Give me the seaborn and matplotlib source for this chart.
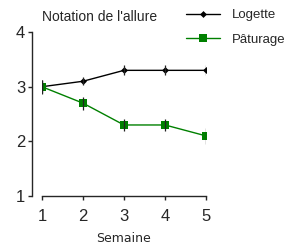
import pandas as pd
import matplotlib
matplotlib.use("Agg")
import matplotlib.pyplot as plt
import seaborn as sns

semaines = [1, 2, 3, 4, 5]
logette = [3.0, 3.1, 3.3, 3.3, 3.3]
logette_err = [0.12, 0.07, 0.09, 0.09, 0.09]
paturage = [3.0, 2.7, 2.3, 2.3, 2.1]
paturage_err = [0.13, 0.12, 0.11, 0.11, 0.15]

GREEN = "#008000"

sns.set_style("ticks")
plt.rcParams["font.family"] = ["Liberation Sans", "DejaVu Sans"]

df = pd.DataFrame({
    "semaine": semaines * 2,
    "note": logette + paturage,
    "groupe": ["Logette"] * 5 + ["Pâturage"] * 5,
})

fig = plt.figure(figsize=(2.87, 2.45), dpi=100)
ax = fig.add_axes([0.146, 0.2, 0.572, 0.669])

sns.lineplot(data=df, x="semaine", y="note", hue="groupe", style="groupe",
             palette={"Logette": "black", "Pâturage": GREEN},
             markers={"Logette": "D", "Pâturage": "s"},
             dashes=False, linewidth=1.0, markersize=5.5,
             markeredgewidth=0, ax=ax, zorder=3)
for line in ax.lines:
    if line.get_marker() == "D":
        line.set_markersize(3.5)

# error bars drawn over the markers, like the original
ax.errorbar(semaines, logette, yerr=logette_err, fmt="none", ecolor="#222222",
            elinewidth=0.9, capsize=0, zorder=4)
ax.errorbar(semaines, paturage, yerr=paturage_err, fmt="none", ecolor="#222222",
            elinewidth=0.9, capsize=0, zorder=4)

ax.set_xlim(1, 5)
ax.set_ylim(1, 4)
ax.set_xticks(semaines)
ax.set_yticks([1, 2, 3, 4])
ax.tick_params(axis="both", labelsize=12, length=3, width=1, pad=2)
ax.tick_params(axis="x", pad=6)
sns.despine(ax=ax)
ax.spines["left"].set_position(("outward", 7))
ax.spines["left"].set_linewidth(1.0)
ax.spines["bottom"].set_linewidth(1.0)

ax.set_xlabel("Semaine", fontsize=9, family=["DejaVu Sans"], labelpad=6)
ax.set_ylabel("")
ax.set_title("Notation de l'allure", fontsize=10, loc="left", pad=8, x=0.0)

handles, labels = ax.get_legend_handles_labels()
ax.legend(handles, labels, loc="upper left", bbox_to_anchor=(0.615, 1.0),
          bbox_transform=fig.transFigure,
          frameon=False, fontsize=9.5, handlelength=2.6, handletextpad=0.9,
          labelspacing=0.9, borderaxespad=0.3)

fig.savefig("out.png", dpi=100)
